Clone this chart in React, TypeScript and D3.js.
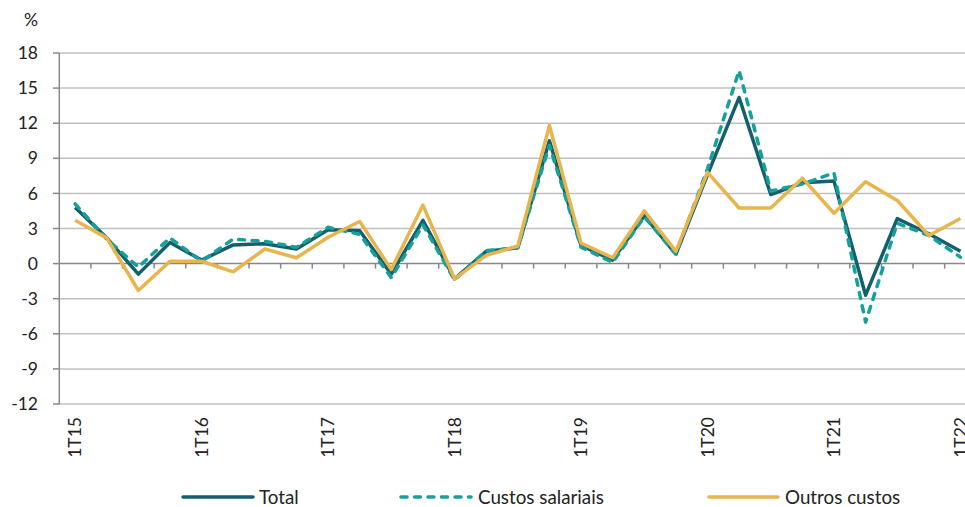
import React from "react";
import * as d3 from "d3";

const categories = [
  "1T15","2T15","3T15","4T15","1T16","2T16","3T16","4T16",
  "1T17","2T17","3T17","4T17","1T18","2T18","3T18","4T18",
  "1T19","2T19","3T19","4T19","1T20","2T20","3T20","4T20",
  "1T21","2T21","3T21","4T21","1T22",
];
const total = [4.8, 2.2, -0.9, 1.8, 0.3, 1.6, 1.7, 1.25, 2.9, 2.8, -0.9, 3.7, -1.3, 1.05, 1.35, 10.5, 1.55, 0.3, 4.1, 0.8, 7.6, 14.2, 5.9, 6.9, 7.05, -2.7, 3.85, 2.55, 1.05];
const salariais = [5.1, 2.1, -0.3, 2.2, 0.2, 2.1, 1.9, 1.4, 3.1, 2.5, -1.2, 3.3, -1.4, 1.1, 1.35, 10.1, 1.4, 0.1, 4.0, 0.8, 8.1, 16.5, 6.2, 6.8, 7.75, -5.0, 3.45, 2.4, 0.55];
const outros = [3.7, 2.2, -2.3, 0.2, 0.2, -0.7, 1.25, 0.5, 2.25, 3.6, -0.5, 5.0, -1.3, 0.7, 1.5, 11.8, 1.75, 0.5, 4.5, 1.05, 7.8, 4.75, 4.75, 7.3, 4.3, 7.0, 5.4, 2.4, 3.85];
const yTicks = [-12, -9, -6, -3, 0, 3, 6, 9, 12, 15, 18];
const seriesNames = ["Total", "Custos salariais", "Outros custos"];

const W = 965;
const H = 507;
const FONT = "Lato, 'Open Sans', sans-serif";
const C_TOTAL = "#145f6c";
const C_SAL = "#16a09c";
const C_OUT = "#e8b54c";

export default function App() {
  const left = 59.3;
  const step = 31.62;
  const x = d3
    .scaleBand<string>()
    .domain(categories)
    .range([left, left + step * categories.length])
    .padding(0);
  const y = d3.scaleLinear().domain([-12, 18]).range([404, 53]);
  const cx = (c: string) => (x(c) as number) + x.bandwidth() / 2;

  const line = d3
    .line<number>()
    .x((_, i) => cx(categories[i]))
    .y((d) => y(d));

  const series = [
    { name: seriesNames[0], data: total, color: C_TOTAL, dash: undefined as string | undefined },
    { name: seriesNames[1], data: salariais, color: C_SAL, dash: "6 7.5" },
    { name: seriesNames[2], data: outros, color: C_OUT, dash: undefined },
  ];

  const legend = [
    { x1: 183, x2: 253, tx: 259, ...series[0] },
    { x1: 401, x2: 471, tx: 478, ...series[1] },
    { x1: 709, x2: 778, tx: 785, ...series[2] },
  ];

  const rightEdge = left + step * categories.length;

  return (
    <div style={{ position: "absolute", left: 0, top: 0, width: W, height: H, background: "#fff" }}>
      <svg width={W} height={H} style={{ display: "block", fontFamily: FONT }}>
        <rect x={0} y={0} width={W} height={H} fill="#fff" />
        {yTicks.map((t) =>
          t === 0 ? null : (
            <line key={"g" + t} x1={left} x2={rightEdge} y1={y(t)} y2={y(t)} stroke="#c0c0c0" strokeWidth={1.5} />
          )
        )}
        {yTicks.map((t) => (
          <g key={"yt" + t}>
            <line x1={53} x2={left} y1={y(t)} y2={y(t)} stroke="#888" strokeWidth={1.5} />
            <text x={38} y={y(t)} dy="0.35em" textAnchor="end" fontSize={17.5} fill="#222">
              {t}
            </text>
          </g>
        ))}
        <text x={31} y={20} dy="0.35em" textAnchor="middle" fontSize={17.5} fill="#222">%</text>
        <line x1={left} x2={left} y1={y(18)} y2={y(-12)} stroke="#888" strokeWidth={1.5} />
        <line x1={left} x2={rightEdge} y1={y(0)} y2={y(0)} stroke="#888" strokeWidth={1.5} />
        {categories.map((c, i) =>
          i === 0 ? null : (
            <line key={"xt" + c} x1={x(c) as number} x2={x(c) as number} y1={y(0)} y2={y(0) + 5} stroke="#888" strokeWidth={1.5} />
          )
        )}
        {categories.map((c, i) =>
          i % 4 === 0 ? (
            <text
              key={"xl" + c}
              transform={`translate(${cx(c)},417) rotate(-90)`}
              textAnchor="end"
              dy="0.35em"
              fontSize={17.5}
              fill="#222"
            >
              {c}
            </text>
          ) : null
        )}
        {series.map((s) => (
          <path
            key={s.name}
            d={line(s.data) as string}
            fill="none"
            stroke={s.color}
            strokeWidth={3.5}
            strokeDasharray={s.dash}
            strokeLinecap={s.dash ? "round" : "butt"}
            strokeLinejoin="round"
          />
        ))}
        {legend.map((l) => (
          <g key={"lg" + l.name}>
            <line
              x1={l.x1}
              x2={l.x2}
              y1={497}
              y2={497}
              stroke={l.color}
              strokeWidth={3.5}
              strokeDasharray={l.dash}
              strokeLinecap="round"
            />
            <text x={l.tx} y={497} dy="0.35em" fontSize={18.8} fill="#222">
              {l.name}
            </text>
          </g>
        ))}
      </svg>
    </div>
  );
}
